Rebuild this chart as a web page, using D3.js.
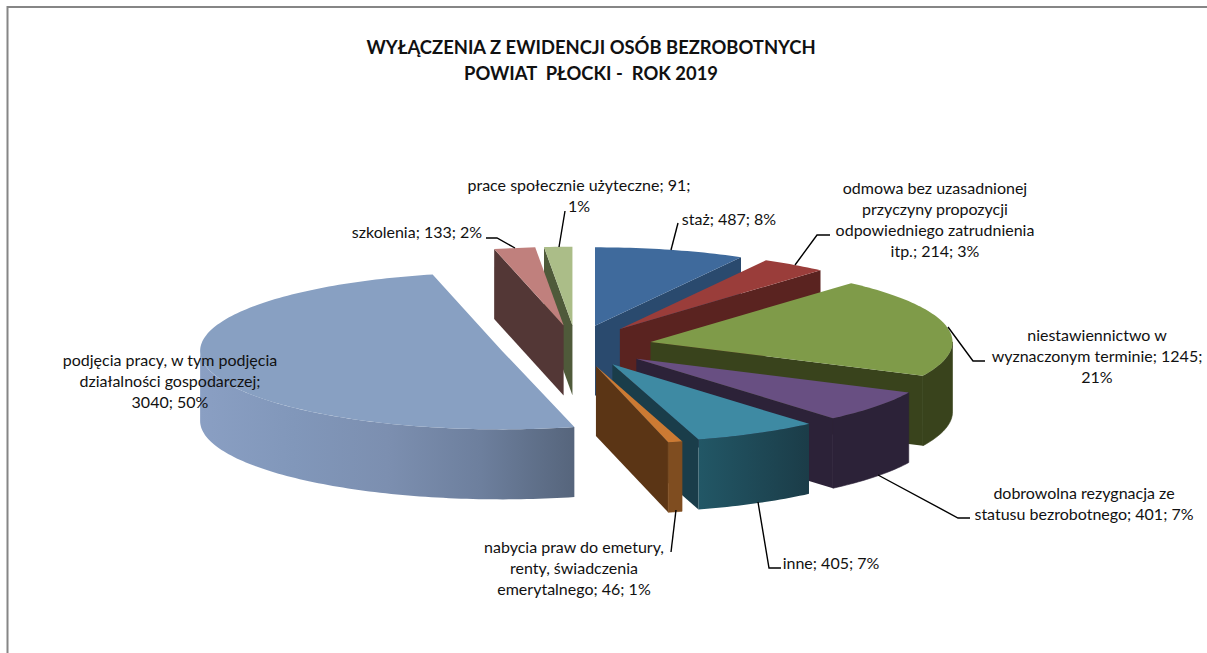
<!DOCTYPE html>
<html><head><meta charset="utf-8">
<script src="https://cdn.jsdelivr.net/npm/d3@7/dist/d3.min.js"></script>
<style>html,body{margin:0;padding:0;background:#fff}svg{display:block}text{font-family:Lato,"Open Sans",sans-serif;fill:#111}</style>
</head><body><svg id="c" width="1207" height="653"></svg>
<script>
// ---- data ----
const categories = ["staż","odmowa","niestawiennictwo","dobrowolna rezygnacja","inne","nabycia praw","podjęcia pracy","szkolenia","prace społecznie użyteczne"];
const values = [487,214,1245,401,405,46,3040,133,91];
const topColors = ["#3f6a9c","#9a3d3a","#7f9b49","#684f82","#3e8aa3","#cc7a33","#88a0c2","#c0807d","#abbd88"];
const sideColors = ["#2a4a6e","#5a2320","#39431c","#2c2238","#1a3d4a","#5b3515","#56657c","#533736","#4f5a3a"];
const wallStops = [null,null,["#39431c","#39431c"],["#2c2238","#2c2238"],["#225766","#1b3c48"],["#7f4d20","#7f4d20"],["#8a9fc3","#8197ba","#7c8fb0","#6d7f9d","#56657c"],null,null];
const titleLines = ["WYŁĄCZENIA Z EWIDENCJI OSÓB BEZROBOTNYCH","POWIAT  PŁOCKI -  ROK 2019"];
const labelLines = [
 ["staż; 487; 8%"],
 ["odmowa bez uzasadnionej","przyczyny propozycji","odpowiedniego zatrudnienia","itp.; 214; 3%"],
 ["niestawiennictwo w","wyznaczonym terminie; 1245;","21%"],
 ["dobrowolna rezygnacja ze","statusu bezrobotnego; 401; 7%"],
 ["inne; 405; 7%"],
 ["nabycia praw do emetury,","renty, świadczenia","emerytalnego; 46; 1%"],
 ["podjęcia pracy, w tym podjęcia","działalności gospodarczej;","3040; 50%"],
 ["szkolenia; 133; 2%"],
 ["prace społecznie użyteczne; 91;","1%"]
];
// ---- layout ----
const labelPos = [[729,224.5],[935,193.5],[1097,340.5],[1084,498.5],[831,568.5],[574,552.5],[170,365.5],[417,237.5],[579,190.5]];
const leaders = [
 [[671,250],[678,223]],
 [[795,265],[817,235],[830,235]],
 [[948,327],[973,361],[985,361]],
 [[878,475],[958,518],[970,518]],
 [[758,502],[769,568],[781,568]],
 [[676,510],[671,552]],
 [],
 [[515,248],[497,238],[486,238]],
 [[559,247],[565,211]]
];
const CX=576, CY=346, RX=302, RY=78.5, EXPLODE=76, EXPLODE_Y=0.274, DEPTH=70, LINE=21.3;

const svg=d3.select("#c");
const defs=svg.append("defs");
// frame
svg.append("path").attr("d","M7.5,653V7H1207").attr("fill","none").attr("stroke","#868686").attr("stroke-width",2);

const arcs=d3.pie().sort(null).startAngle(0).endAngle(2*Math.PI)(values);
const pt=(c,a,d=0)=>[c[0]+RX*Math.sin(a),c[1]-RY*Math.cos(a)+d];
function center(a){const m=(a.startAngle+a.endAngle)/2;return [CX+EXPLODE*Math.sin(m),CY-EXPLODE*EXPLODE_Y*Math.cos(m)];}
const line=d3.line();
function rim(c,a0,a1,d=0){const n=Math.max(2,Math.ceil(Math.abs(a1-a0)/0.02));return d3.range(n+1).map(i=>pt(c,a0+(a1-a0)*i/n,d));}

// painter's order: back to front on each side of the pie
const order=[6,8,7,0,1,2,3,4,5];
order.forEach(i=>{
  const a=arcs[i],c=center(a),s=a.startAngle,e=a.endAngle,g=svg.append("g");
  const quad=ang=>{const r=pt(c,ang);return line([c,r,[r[0],r[1]+DEPTH],[c[0],c[1]+DEPTH]])+"Z";};
  // radial walls facing the viewer
  if(Math.sin(s)<-1e-6) g.append("path").attr("d",quad(s)).attr("fill",sideColors[i]);
  if(Math.sin(e)>1e-6) g.append("path").attr("d",quad(e)).attr("fill",sideColors[i]);
  // outer curved wall for the front half
  const f0=Math.max(s,Math.PI/2),f1=Math.min(e,3*Math.PI/2);
  if(f1>f0){
    const top=rim(c,f0,f1),bot=rim(c,f0,f1,DEPTH).reverse();
    const xs=top.map(p=>p[0]),id="w"+i;
    const gr=defs.append("linearGradient").attr("id",id).attr("gradientUnits","userSpaceOnUse")
      .attr("x1",d3.min(xs)).attr("x2",d3.max(xs)).attr("y1",0).attr("y2",0);
    const st=wallStops[i];
    st.forEach((col,k)=>gr.append("stop").attr("offset",k/(st.length-1)).attr("stop-color",col));
    g.append("path").attr("d",line(top.concat(bot))+"Z").attr("fill",`url(#${id})`)
      .attr("stroke",i===6||i===4?"none":st[0]).attr("stroke-width",0.6);
  }
  // top face
  g.append("path").attr("d",line([c].concat(rim(c,s,e)))+"Z").attr("fill",topColors[i]);
});

// leaders
leaders.forEach(p=>{if(p.length)svg.append("path").attr("d",line(p)).attr("fill","none").attr("stroke","#000").attr("stroke-width",1.4);});

// labels
labelLines.forEach((ls,i)=>{
  const t=svg.append("text").attr("text-anchor","middle").attr("font-size",16);
  ls.forEach((l,j)=>t.append("tspan").attr("x",labelPos[i][0]).attr("y",labelPos[i][1]+j*LINE).text(l));
});
// title
titleLines.forEach((l,j)=>svg.append("text").attr("x",591).attr("y",54+j*26).attr("text-anchor","middle")
  .attr("font-size",18.4).attr("font-weight",700).style("white-space","pre").text(l));
</script></body></html>
